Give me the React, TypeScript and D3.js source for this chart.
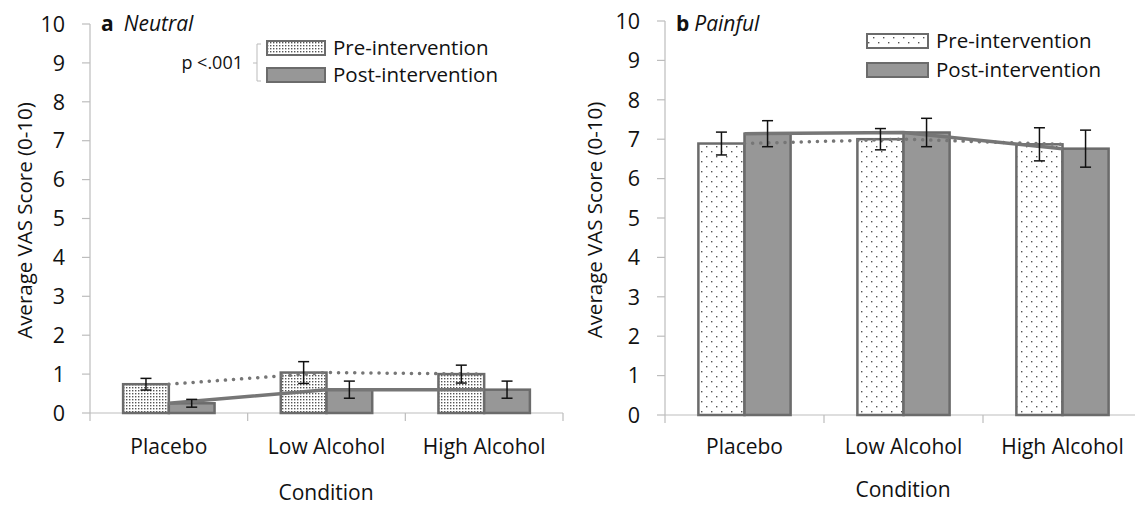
import React from 'react';
import * as d3 from 'd3';

const categories = ['Placebo', 'Low Alcohol', 'High Alcohol'];
const seriesNames = ['Pre-intervention', 'Post-intervention'];
const yTicks = [0, 1, 2, 3, 4, 5, 6, 7, 8, 9, 10];

const neutralPre = [0.74, 1.04, 1.0];
const neutralPost = [0.25, 0.6, 0.6];
const neutralPreErr = [0.15, 0.28, 0.23];
const neutralPostErr = [0.1, 0.22, 0.22];

const painfulPre = [6.89, 7.0, 6.87];
const painfulPost = [7.14, 7.17, 6.76];
const painfulPreErr = [0.29, 0.27, 0.42];
const painfulPostErr = [0.33, 0.36, 0.47];

const FONT = '"Open Sans", Lato, sans-serif';
const AXIS = '#bdbdbd';
const BORDER = '#6b6b6b';
const POST_FILL = '#979797';
const LINE = '#767676';

type PanelProps = {
  letter: string;
  title: string;
  pre: number[];
  post: number[];
  preErr: number[];
  postErr: number[];
  x0: number;
  x1: number;
  yTop: number;
  yBottom: number;
  patternId: string;
  legendX: number;
  legendY: number;
  legendGap: number;
  swatchW: number;
  showP: boolean;
  yTitleX: number;
  catLabelDy: number;
  condDy: number;
  condX: number;
};

function Panel(p: PanelProps) {
  const cat = d3.scaleBand<string>().domain(categories).range([p.x0, p.x1]).padding(0);
  const slot = cat.bandwidth();
  const inner = d3.scaleBand<string>().domain(seriesNames).range([slot * 0.21, slot * 0.79]).padding(0);
  const y = d3.scaleLinear().domain([0, 10]).range([p.yBottom, p.yTop]);
  const center = (c: string) => (cat(c) as number) + slot / 2;
  const line = d3.line<number>().x((_, i) => center(categories[i])).y((v) => y(v));
  const series = [
    { name: seriesNames[0], vals: p.pre, err: p.preErr, fill: `url(#${p.patternId})` },
    { name: seriesNames[1], vals: p.post, err: p.postErr, fill: POST_FILL },
  ];
  const capW = 5.5;
  const visEnd = Math.min(p.x1, 1135);
  return (
    <g fontFamily={FONT}>
      {/* y axis */}
      <line x1={p.x0} x2={p.x0} y1={y(10)} y2={y(0)} stroke={AXIS} strokeWidth={1.2} />
      {yTicks.map((t) => (
        <g key={t}>
          <line x1={p.x0 - 8} x2={p.x0} y1={y(t)} y2={y(t)} stroke={AXIS} strokeWidth={1.2} />
          <text x={p.x0 - 25} y={y(t)} dy="0.36em" textAnchor="end" fontSize={21.5} fill="#111">{t}</text>
        </g>
      ))}
      {/* x axis */}
      <line x1={p.x0} x2={visEnd} y1={y(0)} y2={y(0)} stroke={AXIS} strokeWidth={1.2} />
      {[...categories.map((c) => cat(c) as number), p.x1].map((xv, i) => (
        <line key={i} x1={xv} x2={xv} y1={y(0)} y2={y(0) + 8} stroke={AXIS} strokeWidth={1.2} />
      ))}
      {categories.map((c) => (
        <text key={c} x={center(c)} y={y(0) + p.catLabelDy} textAnchor="middle" fontSize={21} fill="#111">{c}</text>
      ))}
      <text x={p.condX} y={y(0) + p.condDy} textAnchor="middle" fontSize={21} fill="#111">Condition</text>
      <text transform={`translate(${p.yTitleX},${(y(0) + y(10)) / 2 + 2}) rotate(-90)`} textAnchor="middle" fontSize={20.5} fill="#111">Average VAS Score (0-10)</text>
      {/* bars */}
      {series.map((s) =>
        categories.map((c, i) => (
          <rect
            key={s.name + c}
            x={(cat(c) as number) + (inner(s.name) as number)}
            y={y(s.vals[i])}
            width={inner.bandwidth()}
            height={y(0) - y(s.vals[i])}
            fill={s.fill}
            stroke={BORDER}
            strokeWidth={2.5}
          />
        ))
      )}
      {/* lines */}
      <path d={line(p.pre) as string} fill="none" stroke={LINE} strokeWidth={3.5} strokeDasharray="0.1 8" strokeLinecap="round" />
      <path d={line(p.post) as string} fill="none" stroke={LINE} strokeWidth={3.5} />
      {/* error bars */}
      {series.map((s) =>
        categories.map((c, i) => {
          const cx = (cat(c) as number) + (inner(s.name) as number) + inner.bandwidth() / 2;
          const hi = y(s.vals[i] + s.err[i]);
          const lo = y(s.vals[i] - s.err[i]);
          return (
            <g key={'e' + s.name + c} stroke="#111" strokeWidth={1.5}>
              <line x1={cx} x2={cx} y1={hi} y2={lo} />
              <line x1={cx - capW} x2={cx + capW} y1={hi} y2={hi} />
              <line x1={cx - capW} x2={cx + capW} y1={lo} y2={lo} />
            </g>
          );
        })
      )}
      {/* title */}
      <text x={p.x0 + 11} y={31} fontSize={21} fill="#111">
        <tspan fontWeight="bold">{p.letter}</tspan>
        <tspan fontStyle="italic" dx={p.showP ? 10 : 5}>{p.title}</tspan>
      </text>
      {/* legend */}
      {series.map((s, i) => (
        <g key={'l' + s.name} transform={`translate(${p.legendX},${p.legendY + i * p.legendGap})`}>
          <rect x={0} y={-7} width={p.swatchW} height={14} fill={s.fill} stroke={BORDER} strokeWidth={2} />
          <text x={p.swatchW + 8} y={0} dy="0.36em" fontSize={20.5} fill="#111">{s.name}</text>
        </g>
      ))}
      {p.showP && (
        <g>
          <text x={p.legendX - 24} y={p.legendY + 15} dy="0.36em" textAnchor="end" fontSize={18} fill="#111">p &lt;.001</text>
          <path
            d={`M${p.legendX - 6},${p.legendY - 4} H${p.legendX - 10} V${p.legendY + 33} H${p.legendX - 6} M${p.legendX - 10},${p.legendY + 15} H${p.legendX - 14}`}
            fill="none"
            stroke="#bbb"
            strokeWidth={1}
          />
        </g>
      )}
    </g>
  );
}

export default function App() {
  return (
    <svg width={1135} height={505} style={{ position: 'absolute', left: 0, top: 0, background: '#fff' }}>
      <defs>
        <pattern id="denseDots" width={3} height={3} patternUnits="userSpaceOnUse">
          <rect width={3} height={3} fill="#fff" />
          <rect x={0} y={0} width={1.4} height={1.4} fill="#555" />
        </pattern>
        <pattern id="sparseDots" width={10} height={10} patternUnits="userSpaceOnUse">
          <rect width={10} height={10} fill="#fff" />
          <rect x={1} y={1} width={1.4} height={1.4} fill="#555" />
          <rect x={6} y={6} width={1.4} height={1.4} fill="#555" />
        </pattern>
      </defs>
      <Panel
        letter="a"
        title="Neutral"
        pre={neutralPre}
        post={neutralPost}
        preErr={neutralPreErr}
        postErr={neutralPostErr}
        x0={90}
        x1={563}
        yTop={24}
        yBottom={413}
        patternId="denseDots"
        legendX={267}
        legendY={48}
        legendGap={27}
        swatchW={58}
        showP={true}
        yTitleX={32}
        catLabelDy={41}
        condDy={87}
        condX={326}
      />
      <Panel
        letter="b"
        title="Painful"
        pre={painfulPre}
        post={painfulPost}
        preErr={painfulPreErr}
        postErr={painfulPostErr}
        x0={665}
        x1={1142}
        yTop={21}
        yBottom={415}
        patternId="sparseDots"
        legendX={867}
        legendY={41}
        legendGap={29}
        swatchW={61}
        showP={false}
        yTitleX={602}
        catLabelDy={39}
        condDy={82}
        condX={903}
      />
    </svg>
  );
}
